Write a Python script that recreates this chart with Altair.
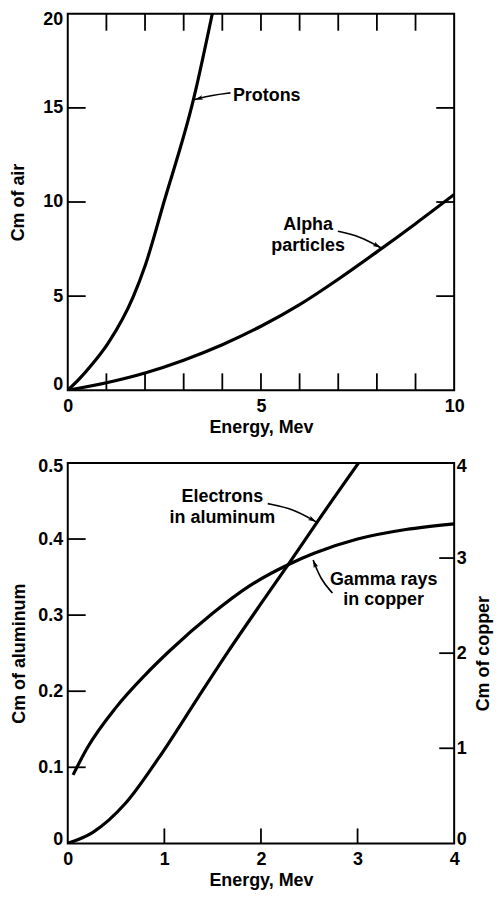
import math
import altair as alt
import pandas as pd

# ---------------- data ----------------
# Top panel: range in air (cm) vs energy (Mev)
proton_energy = [0, 0.3, 0.62, 1.05, 1.69, 2.0, 2.49, 3.26, 3.74]
proton_range = [0, 0.6, 1.35, 2.52, 4.95, 6.6, 10.0, 15.5, 20.0]

alpha_energy = [0, 1, 2, 3, 4, 5, 6, 7, 8, 9, 10]
alpha_range = [0, 0.4, 0.92, 1.6, 2.42, 3.4, 4.55, 5.9, 7.35, 8.85, 10.4]

# Bottom panel: electrons in aluminum (left axis, cm) and gamma rays in copper (right axis, cm)
electron_energy = [0, 0.26, 0.6, 0.94, 1.35, 1.66, 2.0, 2.28, 2.58, 3.01]
electron_range = [0, 0.0145, 0.053, 0.112, 0.192, 0.252, 0.315, 0.366, 0.422, 0.5]

gamma_energy = [0.055, 0.2, 0.5, 0.8, 1.05, 1.5, 1.87, 2.28, 2.55, 3.0, 3.5, 4.0]
gamma_copper = [0.72, 1.0, 1.43, 1.77, 2.02, 2.42, 2.7, 2.93, 3.05, 3.2, 3.3, 3.36]

# axis tick values
top_x_labels = [0, 5, 10]
top_y_labels = [0, 5, 10, 15, 20]
top_x_ticks = [1, 2, 3, 4, 5, 6, 7, 8, 9]
top_y_ticks = [5, 10, 15]
bot_x_labels = [0, 1, 2, 3, 4]
bot_left_labels = [0, 0.1, 0.2, 0.3, 0.4, 0.5]
bot_right_labels = [0, 1, 2, 3, 4]
bot_x_ticks = [1, 2, 3]
bot_left_ticks = [0.1, 0.2, 0.3, 0.4]
bot_right_ticks = [1, 2, 3]

# annotations (data units)
top_note_text = ["Protons", "Alpha", "particles"]
top_note_x = [5.15, 6.22, 6.22]
top_note_y = [15.65, 8.77, 7.66]
bot_note_text = ["Electrons", "in aluminum", "Gamma rays", "in copper"]
bot_note_x = [1.6, 1.6, 3.27, 3.27]
bot_note_y = [0.455, 0.4275, 0.346, 0.320]

# arrows: start, middle, end (head on the curve)
top_arrow_id = ["p", "p", "p", "a", "a", "a"]
top_arrow_x = [4.21, 3.74, 3.29, 6.99, 7.55, 8.10]
top_arrow_y = [15.80, 15.68, 15.45, 8.45, 8.19, 7.57]
bot_arrow_id = ["e", "e", "e", "g", "g", "g"]
bot_arrow_x = [2.07, 2.33, 2.57, 2.74, 2.62, 2.54]
bot_arrow_y = [0.4465, 0.44, 0.4226, 0.329, 0.3463, 0.3725]

# ---------------- layout / style ----------------
FONT = "Liberation Sans"
FW = "bold"
FS = 18
W1, H1 = 388, 378
W2, H2 = 388, 382
CURVE_W = 3.2
ARROW_HEAD = "M0,0L0.6,2L0,1.55L-0.6,2Z"


def arrow_frames(ids, xs, ys, sx, sy):
    path = pd.DataFrame({"g": ids, "x": xs, "y": ys, "o": list(range(len(ids)))})
    heads = []
    for gid in dict.fromkeys(ids):
        pts = path[path.g == gid]
        x0, y0 = pts.x.iloc[-2], pts.y.iloc[-2]
        x1, y1 = pts.x.iloc[-1], pts.y.iloc[-1]
        dx = (x1 - x0) * sx
        dys = -(y1 - y0) * sy
        ang = math.degrees(math.atan2(dx, -dys)) % 360
        heads.append({"x": x1, "y": y1, "a": ang})
    return path, pd.DataFrame(heads)


# ---------------- top panel ----------------
tx = alt.X("x:Q", scale=alt.Scale(domain=[0, 10], nice=False, zero=False),
           axis=alt.Axis(values=top_x_labels, title="Energy, Mev", format="d",
                         labelPadding=7, titlePadding=3, labelFlush=False))
ty = alt.Y("y:Q", scale=alt.Scale(domain=[0, 20], nice=False, zero=False),
           axis=alt.Axis(values=top_y_labels, title="Cm of air", format="d",
                         labelPadding=5, titlePadding=15, labelFlush=True,
                         labelFlushOffset=3))

proton_df = pd.DataFrame({"x": proton_energy, "y": proton_range})
alpha_df = pd.DataFrame({"x": alpha_energy, "y": alpha_range})

curve = dict(color="black", strokeWidth=CURVE_W, interpolate="monotone", clip=True)
tick = dict(color="black", strokeWidth=1.8)
note = dict(font=FONT, fontSize=FS, fontWeight=FW, color="black", align="center",
            baseline="middle")

top_layers = [
    alt.Chart(proton_df).mark_line(**curve).encode(x=tx, y=ty),
    alt.Chart(alpha_df).mark_line(**curve).encode(x=tx, y=ty),
    alt.Chart(pd.DataFrame({"x": top_x_ticks})).mark_rule(**tick).encode(
        x=tx, y=alt.value(H1), y2=alt.value(H1 - 17)),
    alt.Chart(pd.DataFrame({"x": top_x_ticks})).mark_rule(**tick).encode(
        x=tx, y=alt.value(0), y2=alt.value(17)),
    alt.Chart(pd.DataFrame({"y": top_y_ticks})).mark_rule(**tick).encode(
        y=ty, x=alt.value(0), x2=alt.value(18)),
    alt.Chart(pd.DataFrame({"y": top_y_ticks})).mark_rule(**tick).encode(
        y=ty, x=alt.value(W1), x2=alt.value(W1 - 18)),
    alt.Chart(pd.DataFrame({"x": top_note_x, "y": top_note_y, "t": top_note_text}))
    .mark_text(**note).encode(x=tx, y=ty, text="t:N"),
]
tpath, thead = arrow_frames(top_arrow_id, top_arrow_x, top_arrow_y, W1 / 10, H1 / 20)
top_layers += [
    alt.Chart(tpath).mark_line(color="black", strokeWidth=1.6, interpolate="basis")
    .encode(x=tx, y=ty, detail="g:N", order="o:Q"),
    alt.Chart(thead).mark_point(shape=ARROW_HEAD, size=64, filled=True, color="black",
                                opacity=1, strokeWidth=0)
    .encode(x=tx, y=ty, angle=alt.Angle("a:Q", scale=None)),
]
top = alt.layer(*top_layers).properties(width=W1, height=H1)

# ---------------- bottom panel ----------------
bx = alt.X("x:Q", scale=alt.Scale(domain=[0, 4], nice=False, zero=False),
           axis=alt.Axis(values=bot_x_labels, title="Energy, Mev", format="d",
                         labelPadding=7, titlePadding=3, labelFlush=False))
by_left = alt.Y("y:Q", scale=alt.Scale(domain=[0, 0.5], nice=False, zero=False),
                axis=alt.Axis(values=bot_left_labels, title="Cm of aluminum", format="~g",
                              labelPadding=5, titlePadding=9, labelFlush=True,
                              labelFlushOffset=5))
by_right = alt.Y("y:Q", scale=alt.Scale(domain=[0, 4], nice=False, zero=False),
                 axis=alt.Axis(values=bot_right_labels, title="Cm of copper", format="d",
                               orient="right", labelPadding=2, titlePadding=8,
                               titleAngle=270, titleBaseline="top",
                               labelFlush=True, labelFlushOffset=5))

electron_df = pd.DataFrame({"x": electron_energy, "y": electron_range})
gamma_df = pd.DataFrame({"x": gamma_energy, "y": gamma_copper})
bpath, bhead = arrow_frames(bot_arrow_id, bot_arrow_x, bot_arrow_y, W2 / 4, H2 / 0.5)

left_group = alt.layer(
    alt.Chart(electron_df).mark_line(**curve).encode(x=bx, y=by_left),
    alt.Chart(pd.DataFrame({"x": bot_x_ticks})).mark_rule(**tick).encode(
        x=bx, y=alt.value(H2), y2=alt.value(H2 - 15)),
    alt.Chart(pd.DataFrame({"y": bot_left_ticks})).mark_rule(**tick).encode(
        y=by_left, x=alt.value(0), x2=alt.value(18)),
    alt.Chart(pd.DataFrame({"x": bot_note_x, "y": bot_note_y, "t": bot_note_text}))
    .mark_text(**note).encode(x=bx, y=by_left, text="t:N"),
    alt.Chart(bpath).mark_line(color="black", strokeWidth=1.6, interpolate="basis")
    .encode(x=bx, y=by_left, detail="g:N", order="o:Q"),
    alt.Chart(bhead).mark_point(shape=ARROW_HEAD, size=64, filled=True, color="black",
                                opacity=1, strokeWidth=0)
    .encode(x=bx, y=by_left, angle=alt.Angle("a:Q", scale=None)),
)
right_group = alt.layer(
    alt.Chart(gamma_df).mark_line(**curve).encode(x=bx, y=by_right),
    alt.Chart(pd.DataFrame({"y": bot_right_ticks})).mark_rule(**tick).encode(
        y=by_right, x=alt.value(W2), x2=alt.value(W2 - 15)),
)
bottom = alt.layer(left_group, right_group).resolve_scale(y="independent").properties(
    width=W2, height=H2)

chart = (
    alt.vconcat(top, bottom, spacing=20)
    .properties(padding=0, background="white")
    .configure_view(stroke="black", strokeWidth=2)
    .configure_axis(labelFont=FONT, titleFont=FONT, labelFontSize=FS, titleFontSize=FS,
                    labelFontWeight=FW, titleFontWeight=FW, labelColor="black",
                    titleColor="black", grid=False, domain=False, ticks=False, tickSize=0)
)

chart.save("out.html", embed_options={"renderer": "svg", "actions": False})
